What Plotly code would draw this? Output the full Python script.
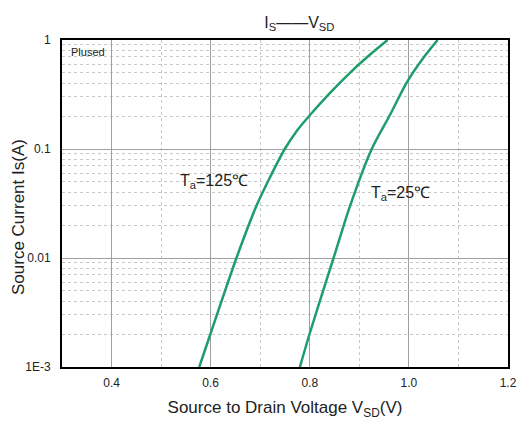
import plotly.graph_objects as go

# Data
v_125 = [0.577, 0.600, 0.652, 0.692, 0.719, 0.7495, 0.773, 0.800, 0.840, 0.880, 0.920, 0.957]
i_125 = [0.001, 0.00204, 0.01, 0.0298, 0.0542, 0.1, 0.145, 0.204, 0.324, 0.495, 0.724, 1.0]

v_25 = [0.780, 0.800, 0.848, 0.881, 0.925, 0.962, 0.995, 1.029, 1.058]
i_25 = [0.001, 0.00204, 0.01, 0.0298, 0.1, 0.206, 0.403, 0.684, 1.0]

x_ticks = [0.4, 0.6, 0.8, 1.0, 1.2]
x_tick_labels = ["0.4", "0.6", "0.8", "1.0", "1.2"]
y_ticks = [1, 0.1, 0.01, 0.001]
y_tick_labels = ["1", "0.1", "0.01", "1E-3"]

green = "#1f9d6b"
font = "Liberation Sans, Arial, sans-serif"

fig = go.Figure()
for vx, iy in ((v_125, i_125), (v_25, i_25)):
    fig.add_trace(go.Scatter(x=vx, y=iy, mode="lines",
                             line=dict(color=green, width=2.5, shape="spline", smoothing=0.8),
                             showlegend=False, hoverinfo="skip"))

fig.update_layout(
    width=517, height=423,
    margin=dict(l=62, r=9, t=40, b=56),
    paper_bgcolor="white", plot_bgcolor="white",
    font=dict(family=font, color="#222222", size=12),
    title=dict(text="I<sub>S</sub>——V<sub>SD</sub>", x=0.579, xanchor="center",
               y=0.948, yanchor="middle", font=dict(size=16, color="#222222")),
    xaxis=dict(range=[0.3, 1.2], tickvals=x_ticks, ticktext=x_tick_labels,
               automargin=False, ticklabeloverflow="allow",
               showgrid=True, gridcolor="#a0a0a0", gridwidth=1.2,
               showline=True, linecolor="black", linewidth=2, mirror=True,
               ticks="outside", ticklen=4, tickcolor="rgba(0,0,0,0)", zeroline=False,
               minor=dict(tickvals=[0.5, 0.7, 0.9, 1.1], showgrid=True,
                          gridcolor="#c8c8c8", griddash="dot", gridwidth=1),
               title=dict(text="Source to Drain Voltage V<sub>SD</sub>(V)",
                          font=dict(size=17), standoff=12),
               tickfont=dict(size=12)),
    yaxis=dict(type="log", range=[-3, 0], tickvals=y_ticks, ticktext=y_tick_labels,
               automargin=False, ticklabeloverflow="allow",
               showgrid=True, gridcolor="#a0a0a0", gridwidth=1.2,
               showline=True, linecolor="black", linewidth=2, mirror=True,
               ticks="outside", ticklen=7, tickcolor="rgba(0,0,0,0)", zeroline=False,
               minor=dict(dtick="D1", showgrid=True,
                          gridcolor="#c8c8c8", griddash="dot", gridwidth=1),
               tickfont=dict(size=12)),
    annotations=[
        dict(text="Source Current Is(A)", xref="paper", yref="paper",
             x=-44 / 446, y=1 - (217 - 40) / 327, textangle=-90,
             xanchor="center", yanchor="middle", showarrow=False, font=dict(size=17)),
        dict(text="Plused", xref="paper", yref="paper", x=0.016, y=0.964,
             xanchor="left", yanchor="middle", showarrow=False, font=dict(size=11)),
        dict(text="T<sub>a</sub>=125℃", xref="paper", yref="paper", x=0.34, y=0.566,
             xanchor="center", yanchor="middle", showarrow=False, font=dict(size=16)),
        dict(text="T<sub>a</sub>=25℃", xref="paper", yref="paper", x=0.76, y=0.532,
             xanchor="center", yanchor="middle", showarrow=False, font=dict(size=16)),
    ],
)

fig.write_html("out.html", config={"displayModeBar": False},
               post_script="document.body.style.margin='0';document.body.style.overflow='hidden';")
